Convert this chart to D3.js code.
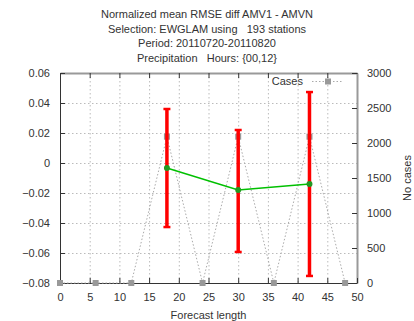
<!DOCTYPE html>
<html>
<head>
<meta charset="utf-8">
<script src="https://cdn.jsdelivr.net/npm/d3@7"></script>
<style>
  body { margin: 0; background: #fff; }
  svg text { font-family: "Liberation Sans", Arial, sans-serif; fill: #333; }
</style>
</head>
<body>
<svg id="chart"></svg>
<script>
// data
var titleLines = ["Normalized mean RMSE diff AMV1 - AMVN",
                  "Selection: EWGLAM using   193 stations",
                  "Period: 20110720-20110820",
                  "Precipitation   Hours: {00,12}"];
var caseLength = [0, 6, 12, 18, 24, 30, 36, 42, 48];
var caseCount = [0, 0, 0, 2090, 0, 2090, 0, 2090, 0];
var meanLength = [18, 30, 42];
var meanDiff = [-0.0033, -0.018, -0.014];
var errLow = [-0.0427, -0.0593, -0.0753];
var errHigh = [0.036, 0.022, 0.0473];
var xTicks = [0, 5, 10, 15, 20, 25, 30, 35, 40, 45, 50];
var yTicks = [-0.08, -0.06, -0.04, -0.02, 0, 0.02, 0.04, 0.06];
var y2Ticks = [0, 500, 1000, 1500, 2000, 2500, 3000];

var width = 414, height = 321;
var plotLeft = 60, plotRight = 357, plotTop = 73, plotBottom = 283;

var svg = d3.select("#chart").attr("width", width).attr("height", height);

var x = d3.scaleLinear().domain([0, 50]).range([plotLeft, plotRight]);
var y = d3.scaleLinear().domain([-0.08, 0.06]).range([plotBottom, plotTop]);
var y2 = d3.scaleLinear().domain([0, 3000]).range([plotBottom, plotTop]);

// title
svg.append("g").selectAll("text")
  .data(titleLines)
  .enter().append("text")
  .attr("x", 207)
  .attr("y", function(d, i) { return 18 + i * 14.5; })
  .attr("text-anchor", "middle")
  .style("font-size", "11px")
  .style("white-space", "pre")
  .text(function(d) { return d; });

// grid
var grid = svg.append("g").attr("stroke", "#bbb").attr("stroke-width", 1)
  .attr("stroke-dasharray", "1.5,2.5");
grid.selectAll("line.gx").data(xTicks.slice(1, -1)).enter().append("line")
  .attr("x1", function(d) { return x(d) + 0.5; }).attr("x2", function(d) { return x(d) + 0.5; })
  .attr("y1", plotTop).attr("y2", plotBottom);
grid.selectAll("line.gy").data(yTicks.slice(1, -1)).enter().append("line")
  .attr("y1", function(d) { return Math.round(y(d)) + 0.5; }).attr("y2", function(d) { return Math.round(y(d)) + 0.5; })
  .attr("x1", plotLeft).attr("x2", plotRight);

// axes
var xAxis = d3.axisBottom(x).tickValues(xTicks).tickSizeInner(-5).tickSizeOuter(0).tickPadding(10).tickFormat(d3.format("d"));
var yAxis = d3.axisLeft(y).tickValues(yTicks).tickSizeInner(-5).tickSizeOuter(0).tickPadding(10).tickFormat(function(d) { return d === 0 ? "0" : d3.format(".2f")(d); });
var y2Axis = d3.axisRight(y2).tickValues(y2Ticks).tickSizeInner(-5).tickSizeOuter(0).tickPadding(10).tickFormat(d3.format("d"));
var xTop = d3.axisTop(x).tickValues(xTicks).tickSizeInner(-5).tickSizeOuter(0).tickFormat("");

function styleAxis(g, col, w) {
  g.select(".domain").attr("stroke", col).attr("stroke-width", w);
  g.selectAll(".tick line").attr("stroke", "#333");
  g.selectAll(".tick text").style("font-size", "11px").attr("fill", "#333")
    .style("font-family", "'Liberation Sans', Arial, sans-serif");
}

svg.append("g").attr("transform", "translate(0," + plotTop + ")").call(xTop).call(styleAxis, "#999", 2);
svg.append("g").attr("transform", "translate(" + plotRight + ",0)").call(y2Axis).call(styleAxis, "#999", 2);
svg.append("g").attr("transform", "translate(0," + plotBottom + ")").call(xAxis).call(styleAxis, "#333", 1);
svg.append("g").attr("transform", "translate(" + plotLeft + ",0)").call(yAxis).call(styleAxis, "#333", 1);

// axis labels
svg.append("text").attr("x", (plotLeft + plotRight) / 2).attr("y", 319).attr("text-anchor", "middle")
  .style("font-size", "11px").text("Forecast length");
svg.append("text").attr("transform", "translate(411," + (plotTop + plotBottom) / 2 + ") rotate(-90)")
  .attr("text-anchor", "middle").style("font-size", "11px").text("No cases");

// cases series
var cases = caseLength.map(function(d, i) { return { x: d, v: caseCount[i] }; });
svg.append("path").datum(cases)
  .attr("fill", "none").attr("stroke", "#aaa").attr("stroke-width", 1).attr("stroke-dasharray", "1.5,2")
  .attr("d", d3.line().x(function(d) { return x(d.x); }).y(function(d) { return y2(d.v); }));
svg.append("g").selectAll("rect").data(cases).enter().append("rect")
  .attr("x", function(d) { return x(d.x) - 3; }).attr("y", function(d) { return y2(d.v) - 3; })
  .attr("width", 6).attr("height", 6).attr("fill", "#999");

// error bars
var errs = meanLength.map(function(d, i) { return { x: d, lo: errLow[i], hi: errHigh[i] }; });
var eb = svg.append("g").attr("stroke", "#ff0000");
eb.selectAll("line.bar").data(errs).enter().append("line")
  .attr("x1", function(d) { return x(d.x); }).attr("x2", function(d) { return x(d.x); })
  .attr("y1", function(d) { return y(d.lo); }).attr("y2", function(d) { return y(d.hi); })
  .attr("stroke-width", 3.5);
eb.selectAll("line.capl").data(errs).enter().append("line")
  .attr("x1", function(d) { return x(d.x) - 3.5; }).attr("x2", function(d) { return x(d.x) + 3.5; })
  .attr("y1", function(d) { return y(d.lo); }).attr("y2", function(d) { return y(d.lo); })
  .attr("stroke-width", 2.5);
eb.selectAll("line.caph").data(errs).enter().append("line")
  .attr("x1", function(d) { return x(d.x) - 3.5; }).attr("x2", function(d) { return x(d.x) + 3.5; })
  .attr("y1", function(d) { return y(d.hi); }).attr("y2", function(d) { return y(d.hi); })
  .attr("stroke-width", 2.5);

// mean line
var means = meanLength.map(function(d, i) { return { x: d, v: meanDiff[i] }; });
svg.append("path").datum(means)
  .attr("fill", "none").attr("stroke", "#00c000").attr("stroke-width", 1.5)
  .attr("d", d3.line().x(function(d) { return x(d.x); }).y(function(d) { return y(d.v); }));
svg.append("g").selectAll("circle").data(means).enter().append("circle")
  .attr("cx", function(d) { return x(d.x); }).attr("cy", function(d) { return y(d.v); })
  .attr("r", 3).attr("fill", "#229922");

// legend
svg.append("text").attr("x", 303).attr("y", 85).attr("text-anchor", "end")
  .style("font-size", "11px").text("Cases");
svg.append("line").attr("x1", 312).attr("x2", 342).attr("y1", 81.5).attr("y2", 81.5)
  .attr("stroke", "#aaa").attr("stroke-dasharray", "1.5,2");
svg.append("rect").attr("x", 325).attr("y", 78.5).attr("width", 6).attr("height", 6).attr("fill", "#999");
</script>
</body>
</html>
